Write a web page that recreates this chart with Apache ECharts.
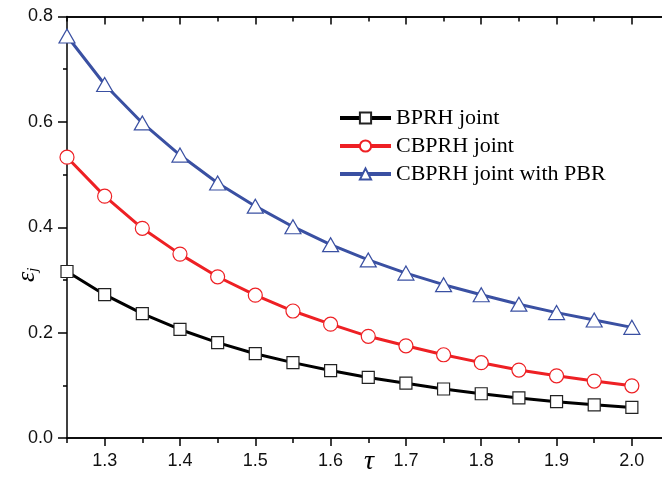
<!DOCTYPE html>
<html>
<head>
<meta charset="utf-8">
<script src="https://cdn.jsdelivr.net/npm/echarts@6/dist/echarts.min.js"></script>
<style>
html,body{margin:0;padding:0;background:#fff;}
#chart{width:662px;height:479px;}
</style>
</head>
<body>
<div id="chart"></div>
<script>
// ---- data ----
const tau = [1.25, 1.30, 1.35, 1.40, 1.45, 1.50, 1.55, 1.60, 1.65, 1.70, 1.75, 1.80, 1.85, 1.90, 1.95, 2.00];
const bprh = [0.316, 0.272, 0.236, 0.206, 0.181, 0.160, 0.143, 0.128, 0.115, 0.104, 0.093, 0.084, 0.076, 0.069, 0.063, 0.058];
const cbprh = [0.533, 0.459, 0.398, 0.349, 0.306, 0.271, 0.241, 0.216, 0.193, 0.175, 0.158, 0.143, 0.129, 0.118, 0.108, 0.099];
const cbprhPbr = [0.763, 0.671, 0.598, 0.537, 0.484, 0.440, 0.401, 0.367, 0.338, 0.313, 0.291, 0.272, 0.254, 0.238, 0.224, 0.210];
const seriesNames = ['BPRH joint', 'CBPRH joint', 'CBPRH joint with PBR'];
const xMajorTicks = [1.3, 1.4, 1.5, 1.6, 1.7, 1.8, 1.9, 2.0];
const xMinorTicks = [1.25, 1.35, 1.45, 1.55, 1.65, 1.75, 1.85, 1.95];
const yTicks = [0.0, 0.2, 0.4, 0.6, 0.8];

const pair = (ys) => tau.map((x, i) => [x, ys[i]]);

const chart = echarts.init(document.getElementById('chart'), null, {renderer: 'canvas'});
const labelFont = {fontFamily: 'Liberation Sans, Arial, sans-serif', fontSize: 18, color: '#111'};
const xBase = {type: 'value', min: 1.25, max: 2.04, splitLine: {show: false},
  axisLine: {show: true, lineStyle: {color: '#000', width: 1.5}}};

const option = {
  animation: false,
  backgroundColor: '#fff',
  grid: {left: 67, right: 0, top: 16.5, bottom: 41, containLabel: false},
  legend: {
    left: 338, top: 107, padding: 0, orient: 'vertical', itemWidth: 51, itemHeight: 14, itemGap: 6, itemTextGap: 5,
    lineStyle: {width: 4},
    textStyle: {fontFamily: 'Liberation Serif, Times New Roman, serif', fontSize: 22, color: '#000', lineHeight: 22},
    data: seriesNames
  },
  xAxis: [
    Object.assign({}, xBase, {position: 'bottom',
      axisTick: {show: true, inside: false, length: 8, customValues: xMajorTicks, lineStyle: {color: '#000', width: 1.5}},
      axisLabel: Object.assign({show: true, margin: 14, customValues: xMajorTicks, formatter: v => v.toFixed(1)}, labelFont)}),
    Object.assign({}, xBase, {position: 'bottom', gridIndex: 0,
      axisTick: {show: true, inside: false, length: 5, customValues: xMinorTicks, lineStyle: {color: '#000', width: 1.5}},
      axisLabel: {show: false}}),
    Object.assign({}, xBase, {position: 'top',
      axisTick: {show: true, inside: true, length: 8, customValues: xMajorTicks, lineStyle: {color: '#000', width: 1.5}},
      axisLabel: {show: false}}),
    Object.assign({}, xBase, {position: 'top',
      axisTick: {show: true, inside: true, length: 5, customValues: xMinorTicks, lineStyle: {color: '#000', width: 1.5}},
      axisLabel: {show: false}})
  ],
  yAxis: {
    type: 'value', min: 0, max: 0.8, interval: 0.2,
    axisLine: {show: true, lineStyle: {color: '#000', width: 1.5}},
    axisTick: {show: true, inside: false, length: 9, lineStyle: {color: '#000', width: 1.5}},
    minorTick: {show: true, splitNumber: 2, length: 4, lineStyle: {color: '#000', width: 1.5}},
    splitLine: {show: false},
    axisLabel: Object.assign({margin: 14, customValues: yTicks, formatter: v => v.toFixed(1)}, labelFont)
  },
  graphic: [
    {type: 'text', left: 364, top: 448, style: {text: 'τ', font: 'italic 28px "Liberation Serif", "Times New Roman", serif', fill: '#000'}},
    {type: 'text', x: 14, y: 282, rotation: Math.PI / 2,
      style: {text: '{e|ε}{s|j}', rich: {
        e: {font: 'italic 26px "Liberation Serif", "Times New Roman", serif', fill: '#000'},
        s: {font: 'italic 15px "Liberation Serif", "Times New Roman", serif', fill: '#000', verticalAlign: 'bottom', padding: [12,0,0,0]}
      }}}
  ],
  series: [
    {name: seriesNames[0], type: 'line', data: pair(bprh), symbol: 'rect', symbolSize: 12,
      lineStyle: {color: '#000', width: 3}, itemStyle: {color: '#fff', borderColor: '#222', borderWidth: 1.2}, z: 3},
    {name: seriesNames[1], type: 'line', data: pair(cbprh), symbol: 'circle', symbolSize: 14,
      lineStyle: {color: '#ee2024', width: 3}, itemStyle: {color: '#fff', borderColor: '#ee2024', borderWidth: 1.2}, z: 3},
    {name: seriesNames[2], type: 'line', data: pair(cbprhPbr), symbol: 'triangle', symbolSize: [16, 14],
      lineStyle: {color: '#3a50a2', width: 3}, itemStyle: {color: '#fff', borderColor: '#3a50a2', borderWidth: 1.2}, z: 3}
  ]
};
chart.setOption(option);
</script>
</body>
</html>
